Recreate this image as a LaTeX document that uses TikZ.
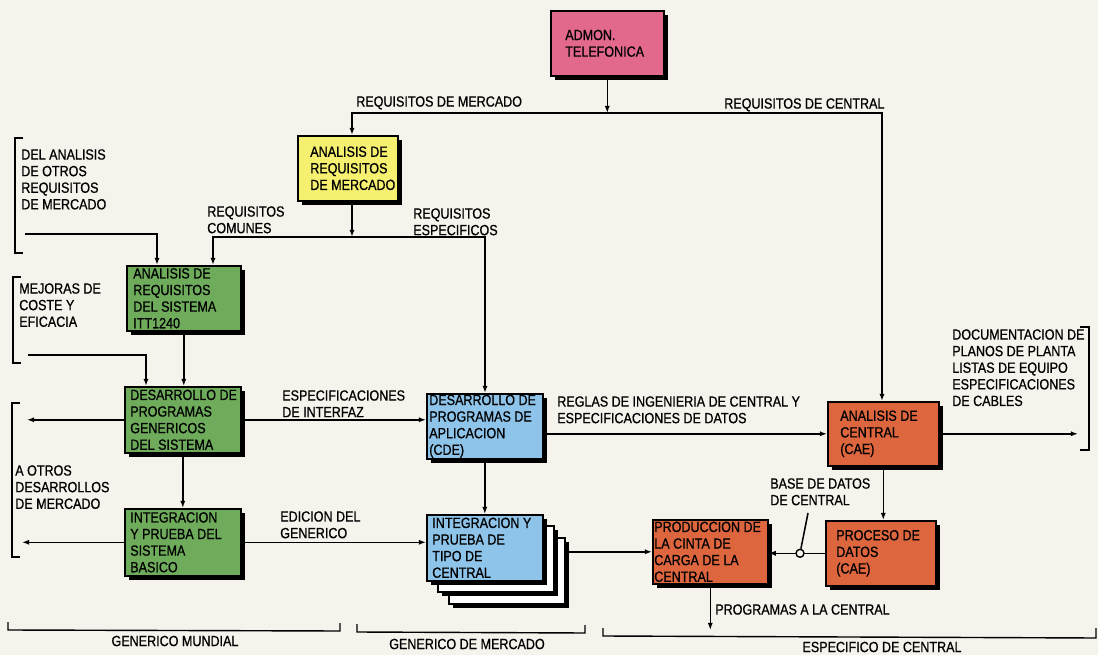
\documentclass[tikz,border=0pt]{standalone}
\usepackage{fontspec}
\setmainfont{Liberation Sans}[FakeStretch=0.85,FakeBold=0.7]
\usetikzlibrary{arrows.meta,shadows}
\definecolor{paper}{RGB}{245,243,236}
\definecolor{pinkbox}{RGB}{226,104,140}
\definecolor{yellowbox}{RGB}{246,240,112}
\definecolor{greenbox}{RGB}{110,172,92}
\definecolor{bluebox}{RGB}{142,195,234}
\definecolor{orangebox}{RGB}{222,102,62}
\begin{document}
\begin{tikzpicture}[x=0.025cm,y=-0.025cm,
  font=\fontsize{10.5}{11.8}\selectfont,
  box/.style={draw=black, line width=1.1pt, fill=#1, anchor=north west, inner sep=0pt,
    drop shadow={shadow xshift=1.1mm, shadow yshift=-1.1mm, fill=black, opacity=1}},
  btxt/.style={anchor=west, align=left, inner sep=0pt},
  lbl/.style={anchor=north west, align=left, inner sep=0pt},
  wire/.style={line width=1.1pt, line join=miter},
  arr/.style={wire, -{Latex[length=1.8mm,width=1.3mm]}},
  brk/.style={line width=1pt}]

\useasboundingbox (0,0) rectangle (1098,655);
\fill[paper] (0,0) rectangle (1098,655);
\clip (0,0) rectangle (1098,655);

% ---- process boxes ----
\node[box=pinkbox, minimum width=2.825cm, minimum height=1.625cm] (admon) at (550,10) {};
\node[btxt] (admon-t) at ([xshift=0.375cm]admon.west) {ADMON.\\TELEFONICA};

\node[box=yellowbox, minimum width=2.5cm, minimum height=1.625cm] (mkt) at (297,135) {};
\node[btxt] (mkt-t) at ([xshift=0.325cm]mkt.west) {ANALISIS DE\\REQUISITOS\\DE MERCADO};

\node[box=greenbox, minimum width=2.85cm, minimum height=1.625cm] (sysreq) at (126,265) {};
\node[btxt] (sysreq-t) at ([xshift=0.175cm]sysreq.west) {ANALISIS DE\\REQUISITOS\\DEL SISTEMA\\ITT1240};

\node[box=greenbox, minimum width=2.9cm, minimum height=1.65cm] (gendev) at (124,386) {};
\node[btxt] (gendev-t) at ([xshift=0.15cm]gendev.west) {DESARROLLO DE\\PROGRAMAS\\GENERICOS\\DEL SISTEMA};

\node[box=greenbox, minimum width=2.9cm, minimum height=1.675cm] (basic) at (124,508) {};
\node[btxt] (basic-t) at ([xshift=0.15cm]basic.west) {INTEGRACION\\Y PRUEBA DEL\\SISTEMA\\BASICO};

\node[box=bluebox, minimum width=2.9cm, minimum height=1.625cm] (appdev) at (426,393) {};
\node[btxt] (appdev-t) at ([xshift=0.075cm]appdev.west) {DESARROLLO DE\\PROGRAMAS DE\\APLICACION\\(CDE)};

% stacked cards behind the type test box
\node[box=white, minimum width=2.9cm, minimum height=1.65cm] (card3) at (448,537) {};
\node[box=white, minimum width=2.9cm, minimum height=1.65cm] (card2) at (437,525) {};
\node[box=bluebox, minimum width=2.9cm, minimum height=1.65cm] (typetest) at (426,514) {};
\node[btxt] (typetest-t) at ([xshift=0.15cm]typetest.west) {INTEGRACION Y\\PRUEBA DE\\TIPO DE\\CENTRAL};

\node[box=orangebox, minimum width=2.775cm, minimum height=1.6cm] (ctranl) at (827,401) {};
\node[btxt] (ctranl-t) at ([xshift=0.325cm]ctranl.west) {ANALISIS DE\\CENTRAL\\(CAE)};

\node[box=orangebox, minimum width=2.75cm, minimum height=1.625cm] (proc) at (825,520) {};
\node[btxt] (proc-t) at ([xshift=0.275cm]proc.west) {PROCESO DE\\DATOS\\(CAE)};

\node[box=orangebox, minimum width=2.875cm, minimum height=1.6cm] (tape) at (652,519) {};
\node[btxt] (tape-t) at ([xshift=0.05cm]tape.west) {PRODUCCION DE\\LA CINTA DE\\CARGA DE LA\\CENTRAL};

% ---- connectors ----
\coordinate (hl) at (352,113);
\coordinate (hr) at (882,113);
\draw[arr] (admon.south) -- (admon.south |- hl);
\draw[arr] (hr) -- (hl) -- (hl |- mkt.north);
\draw[arr] (hl) -- (hr) -- (hr |- ctranl.north);

\coordinate (cl) at (213,237);
\coordinate (cr) at (485,237);
\draw[arr] (mkt.south -| hl) -- (hl |- cl);
\draw[arr] (cr) -- (cl) -- (cl |- sysreq.north);
\draw[arr] (cl) -- (cr) -- (cr |- appdev.north);

\coordinate (in1) at (25,234);
\coordinate (in1c) at (157,234);
\draw[arr] (in1) -- (in1c) -- (in1c |- sysreq.north);
\coordinate (in2) at (28,355);
\coordinate (in2c) at (146,355);
\draw[arr] (in2) -- (in2c) -- (in2c |- gendev.north);

\draw[arr] (sysreq.south) -- (sysreq.south |- gendev.north);
\coordinate (out1) at (27,419);
\draw[arr] (gendev.west) -- (gendev.west -| out1);
\draw[arr] (gendev.east) -- (gendev.east -| appdev.west);
\draw[arr] (gendev.south) -- (gendev.south |- basic.north);
\coordinate (out2) at (22,541);
\draw[arr] (basic.west) -- (basic.west -| out2);
\draw[arr] (basic.east) -- (basic.east -| typetest.west);

\draw[arr] (appdev.south) -- (appdev.south |- typetest.north);
\draw[arr] (appdev.east |- ctranl.west) -- (ctranl.west);
\draw[arr] (card3.east |- tape.west) -- (tape.west);

\draw[arr] (ctranl.south) -- (ctranl.south |- proc.north);
\draw[arr] (proc.west) -- (proc.west -| tape.east);
\coordinate (tapx) at (800,0);
\node[circle, draw, line width=1pt, fill=paper, inner sep=0pt, minimum size=0.2cm] (tap) at (proc.west -| tapx) {};
\coordinate (bdlead) at (808,513);
\draw[wire] (tap) -- (bdlead);

\coordinate (prog) at (708,630);
\draw[arr] (tape.south) -- (tape.south |- prog);
\coordinate (out3) at (1078,437);
\draw[arr] (ctranl.east) -- (ctranl.east -| out3);

% ---- brackets ----
\draw[brk] (23,138) -- (15,138) -- (15,253) -- (23,253);
\draw[brk] (21,277) -- (13,277) -- (13,363) -- (21,363);
\draw[brk] (20,403) -- (12,403) -- (12,557) -- (20,557);
\draw[brk] (1080,327) -- (1089,327) -- (1089,450) -- (1080,450);
\draw[brk] (8,622) -- (8,630) -- (340,631) -- (340,623);
\draw[brk] (357,624) -- (357,632) -- (585,633) -- (585,625);
\draw[brk] (603,628) -- (603,636) -- (1096,638) -- (1096,628);

% ---- labels ----
\node[lbl] (l-mkt) at (356,96) {REQUISITOS DE MERCADO};
\node[lbl] (l-ctr) at (724,98) {REQUISITOS DE CENTRAL};
\node[lbl] (l-com) at (207,206) {REQUISITOS\\COMUNES};
\node[lbl] (l-esp) at (413,208) {REQUISITOS\\ESPECIFICOS};
\node[lbl] (l-otr) at (21,149) {DEL ANALISIS\\DE OTROS\\REQUISITOS\\DE MERCADO};
\node[lbl] (l-mej) at (19,283) {MEJORAS DE\\COSTE Y\\EFICACIA};
\node[lbl] (l-int) at (282,390) {ESPECIFICACIONES\\DE INTERFAZ};
\node[lbl] (l-aot) at (15,465) {A OTROS\\DESARROLLOS\\DE MERCADO};
\node[lbl] (l-edi) at (280,511) {EDICION DEL\\GENERICO};
\node[lbl] (l-reg) at (557,396) {REGLAS DE INGENIERIA DE CENTRAL Y\\ESPECIFICACIONES DE DATOS};
\node[lbl] (l-bd) at (770,478) {BASE DE DATOS\\DE CENTRAL};
\node[lbl] (l-prg) at (715,604) {PROGRAMAS A LA CENTRAL};
\node[lbl] (l-doc) at (952,329) {DOCUMENTACION DE\\PLANOS DE PLANTA\\LISTAS DE EQUIPO\\ESPECIFICACIONES\\DE CABLES};
\node[inner sep=0pt] (l-gm) at (175,641) {GENERICO MUNDIAL};
\node[inner sep=0pt] (l-gdm) at (467,644) {GENERICO DE MERCADO};
\node[inner sep=0pt] (l-edc) at (882,647) {ESPECIFICO DE CENTRAL};
\end{tikzpicture}
\end{document}
